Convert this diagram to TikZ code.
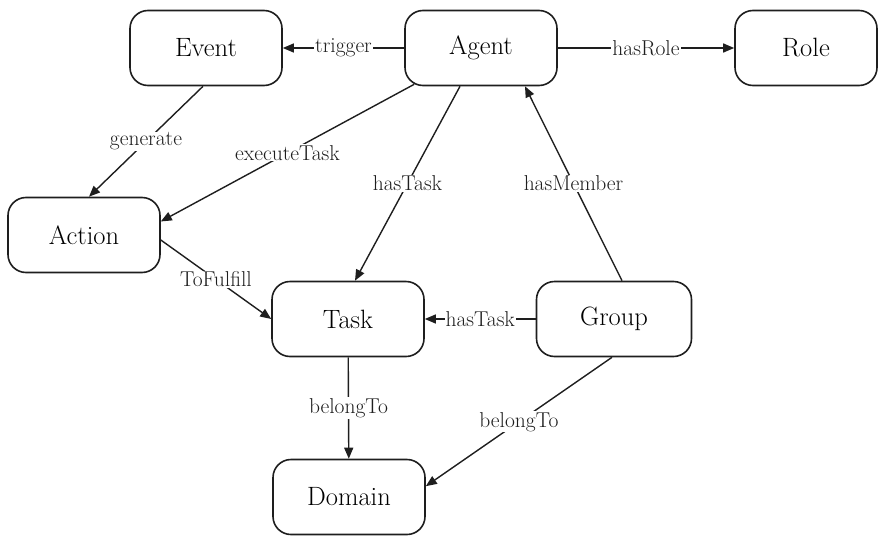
\documentclass[tikz,border=0pt]{standalone}
\usepackage{tikz}
\usetikzlibrary{arrows.meta,positioning}
\definecolor{OntoDark}{HTML}{1E1E1E}
\tikzset{
  conceptbox/.style={draw=OntoDark,line width=1.6pt,rounded corners=18pt,minimum width=152pt,minimum height=75pt,inner sep=0pt,font=\fontsize{26.5}{28}\selectfont,fill=white},
  relarrow/.style={-{Triangle[length=11pt,width=9pt]},line width=1.4pt,draw=OntoDark},
  rellabel/.style={fill=white,inner sep=1pt,font=\fontsize{21.5}{23}\selectfont,text=OntoDark}
}

\begin{document}
\begin{tikzpicture}[x=1pt,y=-1pt]
\useasboundingbox (0,0) rectangle (888,538);
% concepts
\node[conceptbox] (event) at (206,48) {Event};
\node[conceptbox] (agent) at (481,48) {Agent};
\node[conceptbox,minimum width=142pt] (role) at (806,48) {Role};
\node[conceptbox] (action) at (84,235) {Action};
\node[conceptbox] (task) at (348,319) {Task};
\node[conceptbox,minimum width=155pt] (group) at (614,319) {Group};
\node[conceptbox] (domain) at (349,497) {Domain};
% relations
\draw[relarrow] (agent) -- (event) node[rellabel,midway]{trigger};
\draw[relarrow] (agent) -- (role) node[rellabel,midway]{hasRole};
\draw[relarrow] ([xshift=-3pt]event.south) -- ([xshift=5pt]action.north) node[rellabel,midway]{generate};
\draw[relarrow] ([xshift=10pt,yshift=2pt]agent.south west) -- (action.10) node[rellabel,midway]{executeTask};
\draw[relarrow] ([xshift=-21pt]agent.south) -- ([xshift=7pt]task.north) node[rellabel,midway]{hasTask};
\draw[relarrow] ([xshift=8pt]group.north) -- ([xshift=44pt]agent.south) node[rellabel,midway]{hasMember};
\draw[relarrow] ([yshift=-5pt]action.east) -- (task.west) node[rellabel,midway]{ToFulfill};
\draw[relarrow] (group) -- (task) node[rellabel,midway]{hasTask};
\draw[relarrow] (task) -- (domain) node[rellabel,midway]{belongTo};
\draw[relarrow] ([xshift=-2pt]group.south) -- (domain.8) node[rellabel,midway]{belongTo};
\end{tikzpicture}
\end{document}
